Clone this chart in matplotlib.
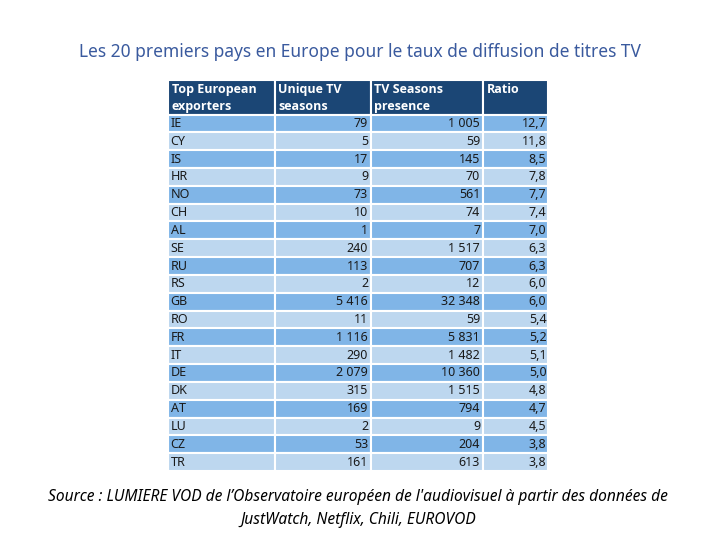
import matplotlib
matplotlib.use("Agg")
import matplotlib.pyplot as plt

plt.rcParams['font.family'] = ['Noto Sans', 'DejaVu Sans']

title = "Les 20 premiers pays en Europe pour le taux de diffusion de titres TV"
source = ("Source : LUMIERE VOD de l\u2019Observatoire européen de l'audiovisuel à partir des données de\n"
          "JustWatch, Netflix, Chili, EUROVOD")

headers = ["Top European\nexporters", "Unique TV\nseasons", "TV Seasons\npresence", "Ratio"]
countries = ["IE", "CY", "IS", "HR", "NO", "CH", "AL", "SE", "RU", "RS",
             "GB", "RO", "FR", "IT", "DE", "DK", "AT", "LU", "CZ", "TR"]
unique_seasons = ["79", "5", "17", "9", "73", "10", "1", "240", "113", "2",
                  "5 416", "11", "1 116", "290", "2 079", "315", "169", "2", "53", "161"]
presence = ["1 005", "59", "145", "70", "561", "74", "7", "1 517", "707", "12",
            "32 348", "59", "5 831", "1 482", "10 360", "1 515", "794", "9", "204", "613"]
ratio = ["12,7", "11,8", "8,5", "7,8", "7,7", "7,4", "7,0", "6,3", "6,3", "6,0",
         "6,0", "5,4", "5,2", "5,1", "5,0", "4,8", "4,7", "4,5", "3,8", "3,8"]

W, H = 723, 560
fig = plt.figure(figsize=(W / 100, H / 100), dpi=100)
fig.patch.set_facecolor("white")

# table area in pixels
tl, tr, tt, tb = 168, 548, 80, 471
ax = fig.add_axes([tl / W, 1 - tb / H, (tr - tl) / W, (tb - tt) / H])
ax.axis("off")
ax.set_xlim(0, 1)
ax.set_ylim(0, 1)

col_px = [107, 95.5, 112.5, 65]
head_px = 34.5
row_px = 17.8
total_w = sum(col_px)
total_h = head_px + row_px * len(countries)

rows = [list(r) for r in zip(countries, unique_seasons, presence, ratio)]
tab = ax.table(cellText=[[""] * 4] + rows, bbox=[0, 0, 1, 1], cellLoc="right")
tab.auto_set_font_size(False)

header_col = "#1B4675"
dark = "#80B5E7"
light = "#BDD7EF"

for (r, c), cell in tab.get_celld().items():
    cell.set_width(col_px[c] / total_w)
    cell.set_height((head_px if r == 0 else row_px) / total_h)
    cell.set_edgecolor("white")
    cell.set_linewidth(1.5)
    txt = cell.get_text()
    txt.set_fontsize(9)
    cell.PAD = 0.025
    if r == 0:
        cell.set_facecolor(header_col)
    else:
        cell.set_facecolor(dark if r % 2 == 1 else light)
        txt.set_color("#1a1a1a")
        if c == 0:
            cell._loc = "left"
            txt.set_ha("left")
        else:
            cell._loc = "right"
            txt.set_ha("right")

# header labels, top-left aligned
x0 = 0.0
for c, h in enumerate(headers):
    ax.text(x0 + 3.5 / total_w, 1 - 3 / total_h, h, ha="left", va="top",
            fontsize=9, fontweight="bold", color="white", linespacing=1.35,
            family=["Open Sans", "DejaVu Sans"])
    x0 += col_px[c] / total_w

fig.text(360 / W, 1 - 52 / H, title, ha="center", va="center",
         fontsize=12.5, color="#3A5A9E")
fig.text(358 / W, 1 - 508.5 / H, source, ha="center", va="center",
         fontsize=11.2, style="italic", color="black", linespacing=1.65)

fig.savefig("out.png", dpi=100, facecolor="white")
